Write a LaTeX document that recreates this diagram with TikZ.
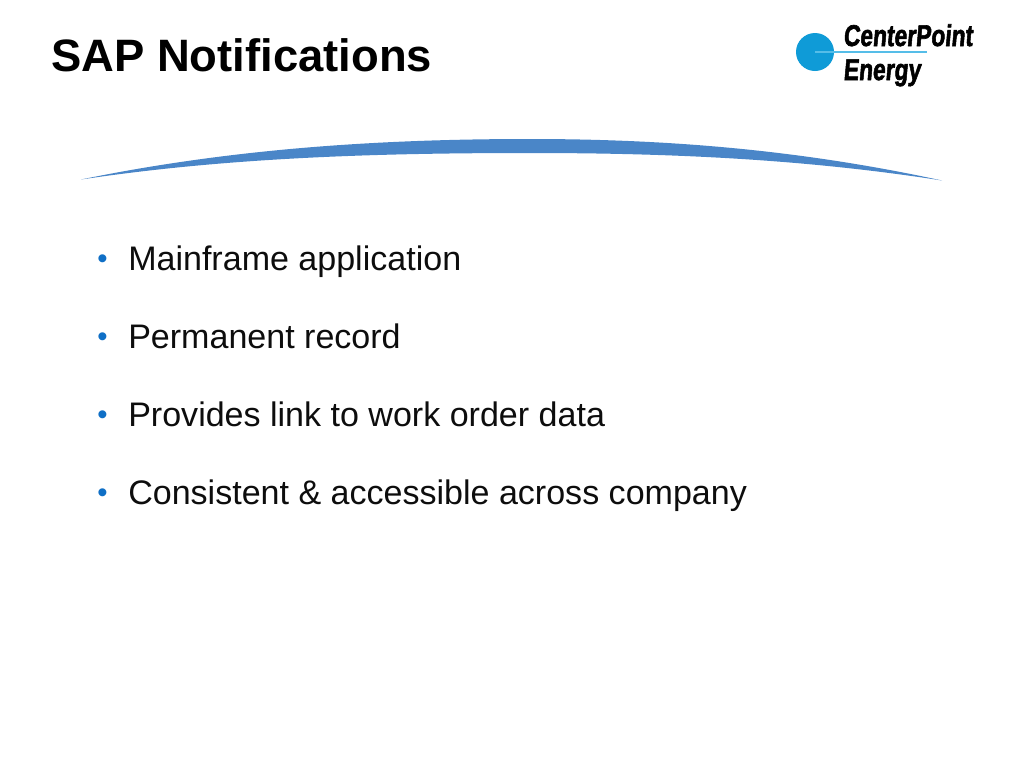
\documentclass[tikz,border=0pt]{standalone}
\usepackage{fontspec}
\setmainfont{Liberation Sans}
\newfontfamily\logofont[FakeBold=2.2,FakeSlant=0.12]{Liberation Sans Bold}
\definecolor{swoosh}{HTML}{4A86C8}
\definecolor{bulletblue}{HTML}{0F6FC6}
\definecolor{logoblue}{HTML}{0F9BD7}
\definecolor{logoline}{HTML}{55BDE8}
\tikzset{
  titletext/.style={anchor=base west,inner sep=0pt,font=\fontsize{34.05}{34}\selectfont\bfseries,text=black},
  bodytext/.style={anchor=base west,inner sep=0pt,font=\fontsize{25.53}{25}\selectfont,text=black!95},
  bulletmark/.style={anchor=base west,inner sep=0pt,font=\fontsize{22}{22}\selectfont,text=bulletblue},
  logotext/.style={anchor=base west,inner sep=0pt,font=\fontsize{22.5}{22}\logofont,text=black}
}
\begin{document}
\begin{tikzpicture}[x=0.75pt,y=-0.75pt]
\useasboundingbox (0,0) rectangle (1024,768);
\fill[white] (0,0) rectangle (1024,768);
\node[titletext] (title) at (51,71) {SAP Notifications};
\fill[swoosh] (81,179.5) .. controls (225,150) and (370,139) .. (530,139)
  .. controls (680,139) and (810,152) .. (942,180.5)
  .. controls (810,160) and (680,153) .. (530,153)
  .. controls (370,153) and (225,158) .. cycle;
\node[bulletmark] (b1) at (97,268) {•};
\node[bodytext] (t1) at (128,270) {Mainframe application};
\node[bulletmark] (b2) at (97,346) {•};
\node[bodytext] (t2) at (128,348) {Permanent record};
\node[bulletmark] (b3) at (97,424) {•};
\node[bodytext] (t3) at (128,426) {Provides link to work order data};
\node[bulletmark] (b4) at (97,502) {•};
\node[bodytext] (t4) at (128,504) {Consistent \& accessible across company};
\fill[logoblue] (815,52) circle (19);
\draw[logoline,line width=0.9pt] (815,52) -- (927,52);
\node[logotext,xscale=0.76] (l1) at (843,46) {CenterPoint};
\node[logotext,xscale=0.76] (l2) at (843,80) {Energy};
\end{tikzpicture}
\end{document}
